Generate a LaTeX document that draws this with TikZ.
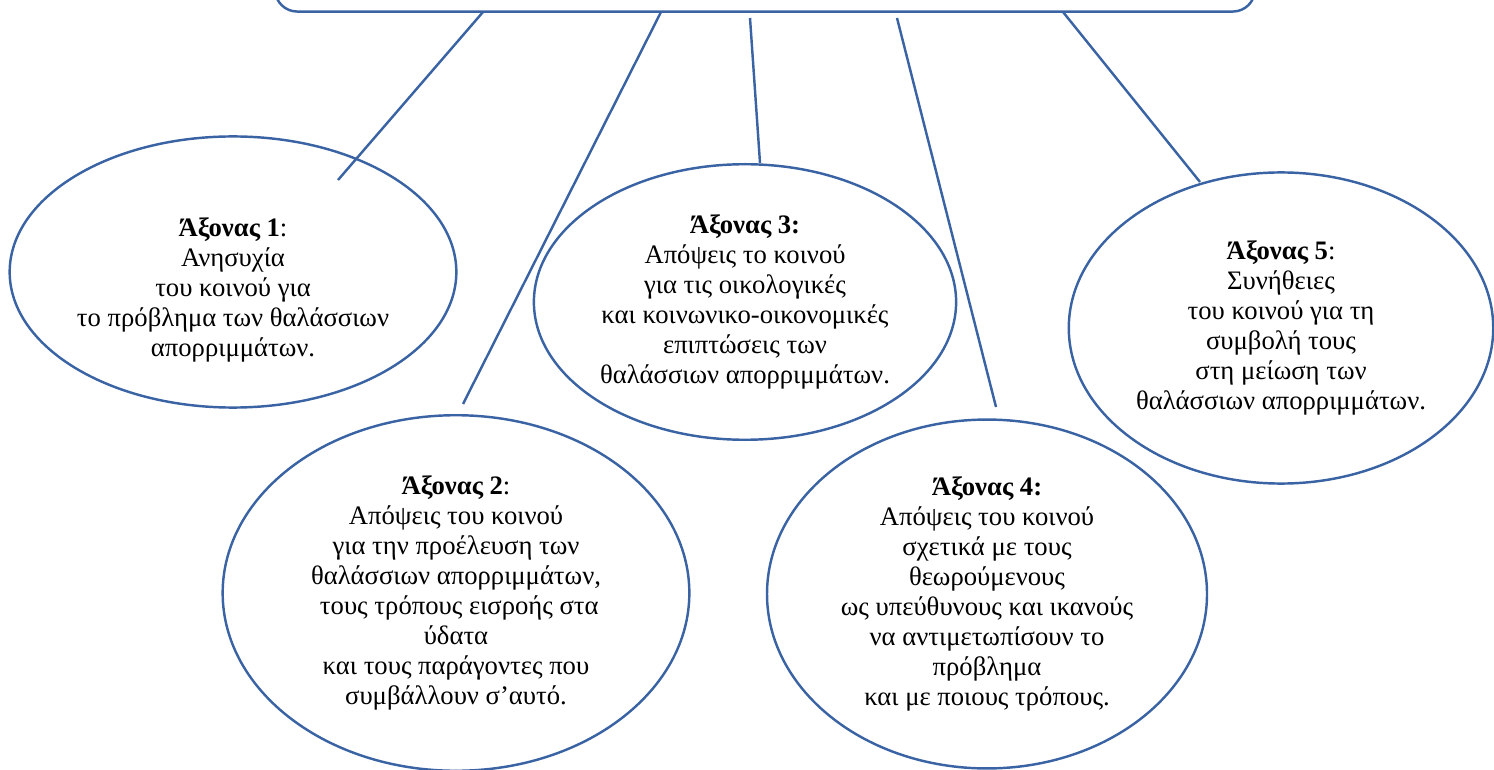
\documentclass[tikz,border=0pt]{standalone}
\usepackage{fontspec}
\setmainfont{Liberation Serif}
\definecolor{ovalblue}{RGB}{58,99,164}

\tikzset{
  axisoval/.style={ellipse, draw=ovalblue, line width=1.1pt, align=center, inner sep=0pt,
    font=\fontsize{12}{13.5}\selectfont},
  axistext/.style={align=center, inner sep=0pt, font=\fontsize{12}{13.5}\selectfont},
  link/.style={draw=ovalblue, line width=1.1pt}
}
\usetikzlibrary{shapes.geometric}

\begin{document}
\begin{tikzpicture}[x=0.45pt,y=-0.45pt]
    \useasboundingbox (0,0) rectangle (1494,770);
    % top box, only its lower edge shows
    \node[draw=ovalblue, line width=1.1pt, rounded corners=10pt, minimum width=441pt,
      minimum height=50pt] (topic) at (765,-44) {};
    \node[axisoval, minimum width=201pt, minimum height=122pt] (ax1) at (233,272) {};
    \node[axistext] (ax1text) at (233,290)
      {\textbf{Άξονας 1}:\\Ανησυχία\\του κοινού για\\το πρόβλημα των θαλάσσιων\\απορριμμάτων.};
    \node[axisoval, minimum width=210pt, minimum height=160pt] (ax2) at (456,593)
      {\textbf{Άξονας 2}:\\Απόψεις του κοινού\\για την προέλευση των\\θαλάσσιων απορριμμάτων,\\
      \ τους τρόπους εισροής στα\\ύδατα\\και τους παράγοντες που\\συμβάλλουν σ’αυτό.};
    \node[axisoval, minimum width=190pt, minimum height=124pt] (ax3) at (745,302)
      {\textbf{Άξονας 3:}\\Απόψεις το κοινού\\για τις οικολογικές\\και κοινωνικο-οικονομικές\\
      επιπτώσεις των\\θαλάσσιων απορριμμάτων.};
    \node[axisoval, minimum width=198pt, minimum height=157pt] (ax4) at (987,594)
      {\textbf{Άξονας 4:}\\Απόψεις του κοινού\\σχετικά με τους\\θεωρούμενους\\
      ως υπεύθυνους και ικανούς\\να αντιμετωπίσουν το\\πρόβλημα\\και με ποιους τρόπους.};
    \node[axisoval, minimum width=191pt, minimum height=140pt] (ax5) at (1281,328)
      {\textbf{Άξονας 5}:\\Συνήθειες\\του κοινού για τη\\συμβολή τους\\στη μείωση των\\
      θαλάσσιων απορριμμάτων.};

    \coordinate (s1) at (483,12);
    \coordinate (s2) at (661,12);
    \coordinate (s3) at (750,18);
    \coordinate (s4) at (897,18);
    \coordinate (s5) at (1063,12);
    \coordinate (e1) at (338,180);
    \coordinate (e2) at (463,404);
    \coordinate (e3) at (760,163);
    \coordinate (e4) at (996,407);
    \coordinate (e5) at (1200,182);
    \foreach \i in {1,...,5}
      \draw[link] (s\i) -- (e\i);
\end{tikzpicture}
\end{document}
